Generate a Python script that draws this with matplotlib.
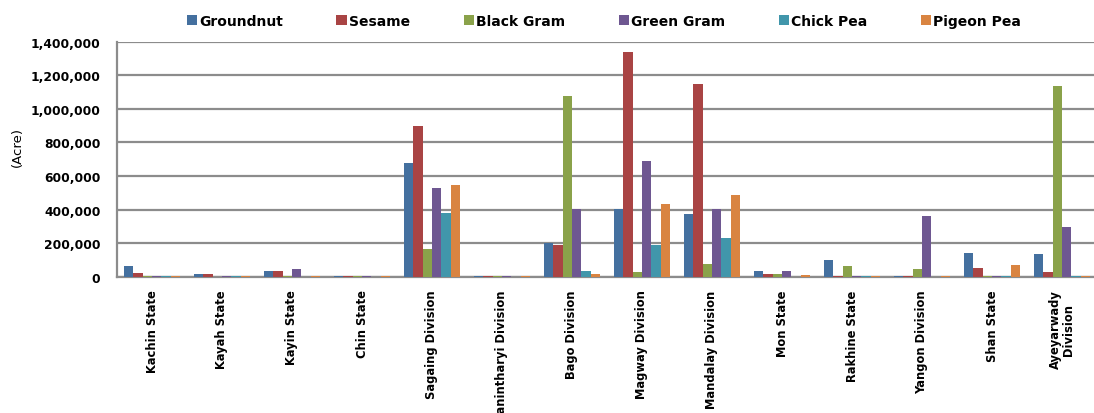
import matplotlib.pyplot as plt
import numpy as np
from matplotlib.ticker import FuncFormatter, MultipleLocator

# cultivated area by state / division (acre)
regions = ["Kachin State", "Kayah State", "Kayin State", "Chin State",
           "Sagaing Division", "Tanintharyi Division", "Bago Division",
           "Magway Division", "Mandalay Division", "Mon State",
           "Rakhine State", "Yangon Division", "Shan State",
           "Ayeyarwady\nDivision"]

groundnut = [63000, 16000, 38000, 7000, 680000, 7000, 200000,
             405000, 375000, 33000, 104000, 7000, 145000, 137000]
sesame = [26000, 16000, 38000, 7000, 900000, 7000, 190000,
          1335000, 1145000, 18000, 8000, 7000, 53000, 31000]
black_gram = [7000, 0, 8000, 7000, 165000, 7000, 1078000,
              30000, 78000, 18000, 65000, 50000, 7000, 1133000]
green_gram = [7000, 7000, 50000, 7000, 527000, 7000, 406000,
              692000, 406000, 33000, 7000, 363000, 7000, 296000]
chick_pea = [7000, 7000, 0, 0, 382000, 0, 33000,
             190000, 229000, 0, 7000, 0, 7000, 7000]
pigeon_pea = [7000, 7000, 7000, 7000, 547000, 7000, 20000,
              435000, 488000, 10000, 7000, 7000, 73000, 7000]

series = [("Groundnut", groundnut, "#44709f"),
          ("Sesame", sesame, "#a94444"),
          ("Black Gram", black_gram, "#8aa24a"),
          ("Green Gram", green_gram, "#6e5791"),
          ("Chick Pea", chick_pea, "#4196ab"),
          ("Pigeon Pea", pigeon_pea, "#d98441")]

W, H = 1094, 414
fig = plt.figure(figsize=(W / 100, H / 100), dpi=100)
ax = fig.add_axes([117 / W, 136 / H, 980 / W, 235.5 / H])

x = np.arange(len(regions))
bw = 0.8 / len(series)
for i, (name, vals, col) in enumerate(series):
    ax.bar(x - 0.4 + bw * (i + 0.5), vals, width=bw, color=col,
           linewidth=0, label=name, zorder=3)

ax.set_xlim(-0.5, len(regions) - 0.5)
ax.set_ylim(0, 1400000)
ax.yaxis.set_major_locator(MultipleLocator(200000))
ax.yaxis.set_major_formatter(FuncFormatter(lambda v, p: f"{int(v):,}"))
ax.grid(axis="y", color="#8c8c8c", linewidth=1.6, zorder=0)
ax.set_axisbelow(True)

for s in ["top", "right"]:
    ax.spines[s].set_visible(False)
for s in ["left", "bottom"]:
    ax.spines[s].set_color("#8c8c8c")
    ax.spines[s].set_linewidth(1.6)

ax.set_xticks(x)
ax.set_xticklabels(regions, rotation=90, fontsize=8.3, fontweight="bold",
                   va="top", ha="center", linespacing=1.0)
ax.tick_params(axis="x", length=0, pad=9)
ax.tick_params(axis="y", length=0, pad=12, labelsize=8.8)
for t in ax.get_yticklabels():
    t.set_fontweight("bold")

fig.text(17 / W, 1 - 147 / H, "(Acre)", rotation=90, ha="center",
         va="center", fontsize=9.5)

fig.legend(loc="center", bbox_to_anchor=(604 / W, 1 - 22 / H), ncol=6,
           frameon=False, handlelength=0.75, handleheight=0.75,
           handletextpad=0.15, columnspacing=3.85,
           prop={"weight": "bold", "size": 10})

fig.savefig("out.png", dpi=100)
